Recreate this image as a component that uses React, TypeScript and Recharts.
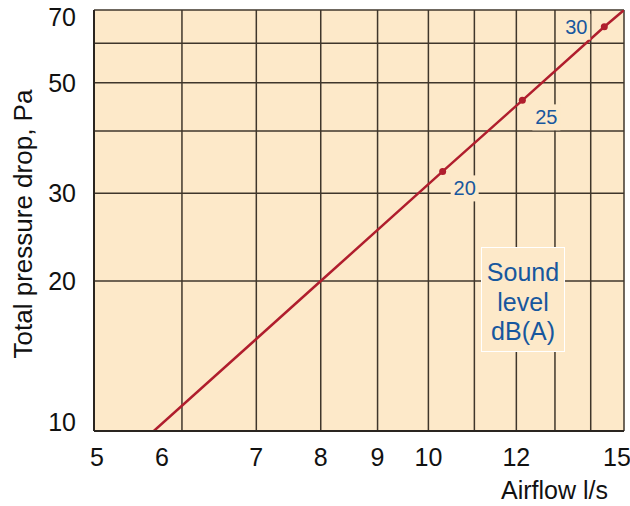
import { ComposedChart, Line, Scatter, XAxis, YAxis, CartesianGrid } from 'recharts';

// airflow (l/s) vs total pressure drop (Pa)
const FLOW = [5.66, 8, 10.3, 12.15, 14.4, 15];
const PRESSURE = [10, 20, 33.2, 46.1, 64.8, 70];

// sound level markers on the curve
const SOUND_FLOW = [10.3, 12.15, 14.4];
const SOUND_PRESSURE = [33.2, 46.1, 64.8];
const SOUND_DB = [20, 25, 30];

const X_TICKS = [5, 6, 7, 8, 9, 10, 11, 12, 13, 14, 15];
const X_LABELS = [5, 6, 7, 8, 9, 10, 12, 15];
const Y_TICKS = [10, 20, 30, 40, 50, 60, 70];
const Y_LABELS = [10, 20, 30, 50, 70];

const FONT = '"Liberation Sans", Arial, sans-serif';
const BLUE = '#17579e';
const RED = '#b01e2d';
const CREAM = '#fde9c9';

const curve = FLOW.map((x, i) => ({ x, y: PRESSURE[i] }));
const marks = SOUND_FLOW.map((x, i) => ({ x, y: SOUND_PRESSURE[i], db: SOUND_DB[i] }));

// label nudges so they sit like the printed chart
const xLabelShift: Record<number, number> = { 5: 3, 6: -20, 15: -7 };
const yLabelShift: Record<number, number> = { 70: 7, 10: -9 };
const dbOffset: Record<number, [number, number]> = { 20: [22, 17], 25: [24, 17], 30: [-28, 0] };

const XTick = (props: any) => {
    const { x, y, payload } = props;
    if (!X_LABELS.includes(payload.value)) return null;
    return (
        <text x={x + (xLabelShift[payload.value] || 0)} y={y + 35} textAnchor="middle"
            fontSize={25} fontFamily={FONT} fill="#111">
            {payload.value}
        </text>
    );
};

const YTick = (props: any) => {
    const { x, y, payload } = props;
    if (!Y_LABELS.includes(payload.value)) return null;
    return (
        <text x={x - 18} y={y + 9 + (yLabelShift[payload.value] || 0)} textAnchor="end"
            fontSize={25} fontFamily={FONT} fill="#111">
            {payload.value}
        </text>
    );
};

const SoundDot = (props: any) => {
    const { cx, cy, payload } = props;
    const [dx, dy] = dbOffset[payload.db] || [20, 15];
    return (
        <g>
            <circle cx={cx} cy={cy} r={3.5} fill={RED} />
            <rect x={cx + dx - 14} y={cy + dy - 13} width={28} height={26} fill={CREAM} />
            <text x={cx + dx} y={cy + dy + 7} textAnchor="middle" fontSize={20}
                fontFamily={FONT} fill={BLUE}>
                {payload.db}
            </text>
        </g>
    );
};

export default function App() {
    return (
        <div style={{ position: 'absolute', left: 0, top: 0, width: 630, height: 506, background: '#fff' }}>
            <ComposedChart width={630} height={506} margin={{ top: 10, right: 6, left: 0, bottom: 0 }}>
                <CartesianGrid fill={CREAM} stroke="#3f362b" strokeWidth={1.5} />
                <XAxis
                    type="number"
                    dataKey="x"
                    scale="log"
                    domain={[5, 15]}
                    ticks={X_TICKS}
                    allowDataOverflow
                    height={75}
                    tickSize={0}
                    tickMargin={0}
                    axisLine={{ stroke: '#2a2520', strokeWidth: 2 }}
                    tickLine={false}
                    tick={<XTick />}
                    interval={0}
                    label={{
                        content: () => (
                            <text x={608} y={499} textAnchor="end" fontSize={25} fontFamily={FONT} fill="#111">
                                Airflow l/s
                            </text>
                        ),
                    }}
                />
                <YAxis
                    type="number"
                    dataKey="y"
                    scale="log"
                    domain={[10, 70]}
                    ticks={Y_TICKS}
                    allowDataOverflow
                    width={94}
                    tickSize={0}
                    tickMargin={0}
                    axisLine={{ stroke: '#2a2520', strokeWidth: 2 }}
                    tickLine={false}
                    tick={<YTick />}
                    interval={0}
                    label={{
                        content: () => (
                            <text x={23} y={224} transform="rotate(-90, 23, 224)" textAnchor="middle"
                                dominantBaseline="central" fontSize={26} fontFamily={FONT} fill="#111">
                                Total pressure drop, Pa
                            </text>
                        ),
                    }}
                />
                <Line data={curve} dataKey="y" type="linear" stroke={RED} strokeWidth={2.5}
                    dot={false} activeDot={false} isAnimationActive={false} />
                <Scatter data={marks} dataKey="y" shape={<SoundDot />} isAnimationActive={false} />
            </ComposedChart>
            <div style={{
                position: 'absolute', left: 481, top: 247, width: 84, height: 105,
                border: '1.5px solid #fff', background: CREAM, color: BLUE,
                fontFamily: FONT, fontSize: 25, lineHeight: '29.5px', textAlign: 'center',
                paddingTop: 10, boxSizing: 'border-box',
            }}>
                Sound<br />level<br />dB(A)
            </div>
        </div>
    );
}
